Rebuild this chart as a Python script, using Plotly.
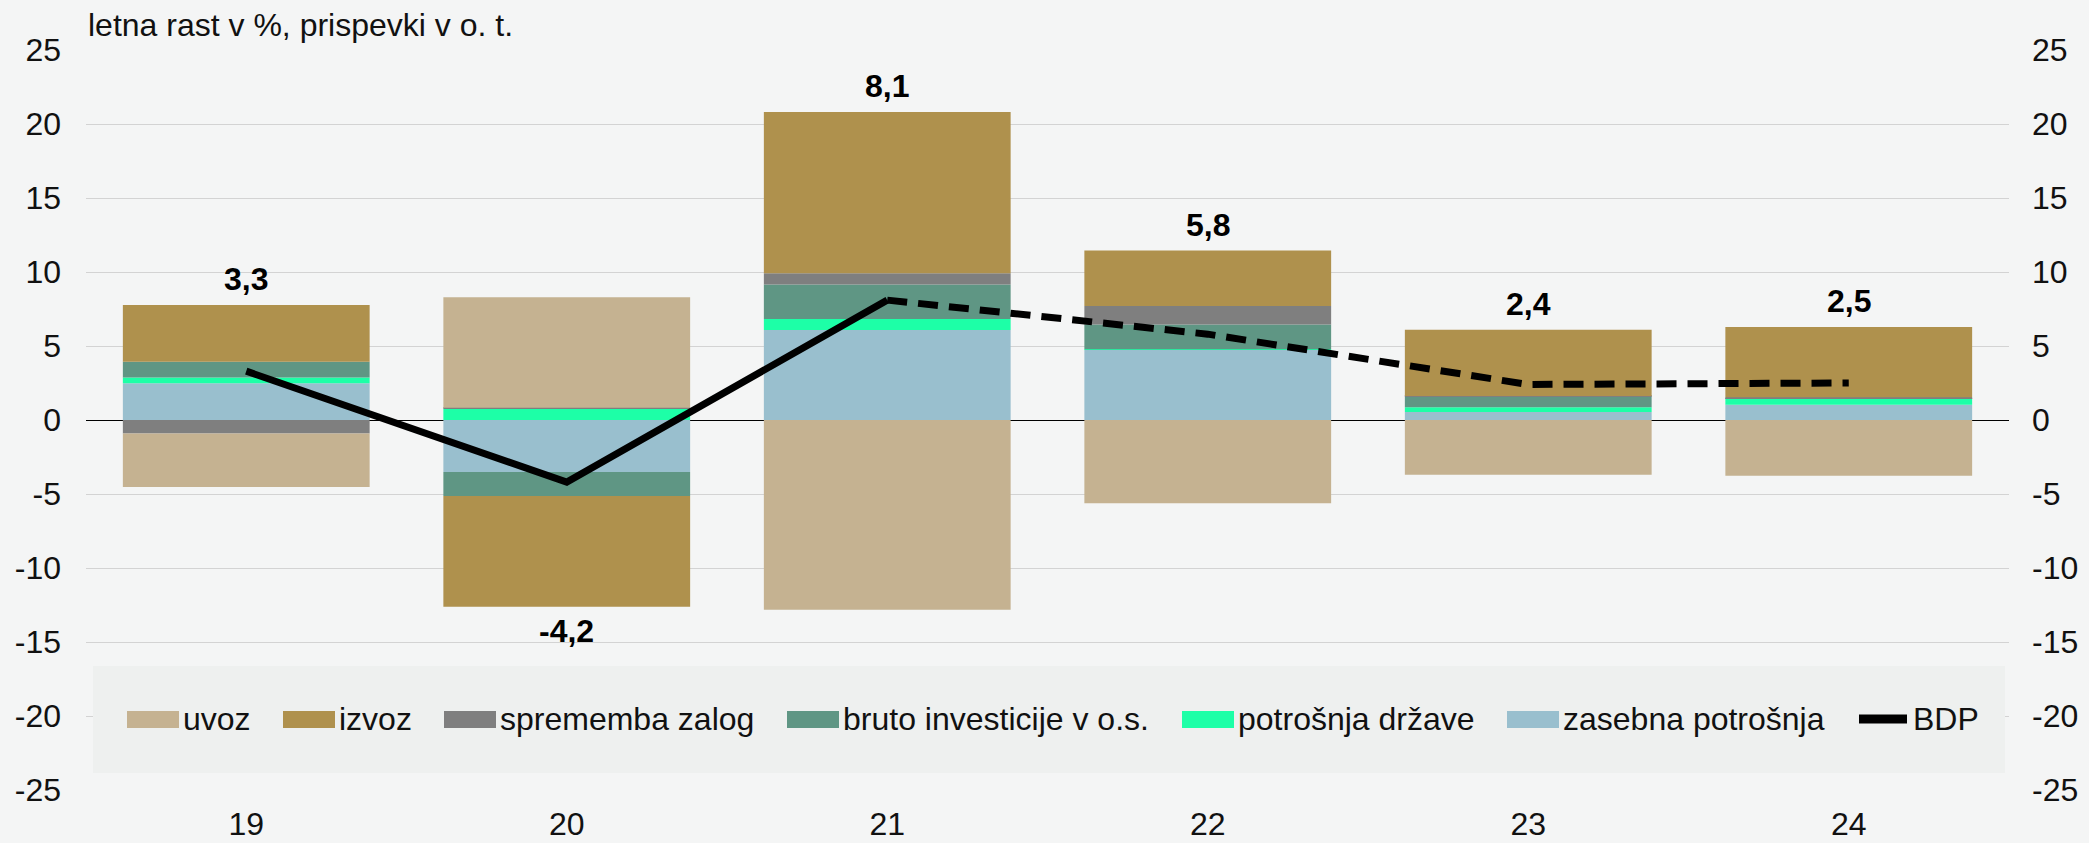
import plotly.graph_objects as go

years = ["19", "20", "21", "22", "23", "24"]

# prispevki v o. t.
zasebna = [2.48, -3.51, 6.08, 4.73, 0.54, 1.03]
drzava = [0.40, 0.76, 0.74, 0.05, 0.32, 0.40]
investicije = [1.06, -1.63, 2.34, 1.67, 0.74, 0.02]
zaloge = [-0.92, 0.07, 0.75, 1.26, 0.03, 0.08]
izvoz = [3.83, -7.47, 10.90, 3.74, 4.46, 4.75]
uvoz = [-3.60, 7.46, -12.82, -5.63, -3.70, -3.76]

bdp = [3.3, -4.2, 8.1, 5.8, 2.4, 2.5]
bdp_labels = ["3,3", "-4,2", "8,1", "5,8", "2,4", "2,5"]
n_actual = 3  # 19-21 realizacija, ostalo napoved

y_ticks = [-25, -20, -15, -10, -5, 0, 5, 10, 15, 20, 25]

W, H = 2089, 843
L, R, T, B = 86, 80, 50, 53
FONT = "Liberation Sans, Arial, sans-serif"
FS = 32

# stacked from zero outward
series = [
    ("zasebna potrošnja", zasebna, "#99BFCE"),
    ("potrošnja države", drzava, "#1DFFA7"),
    ("bruto investicije v o.s.", investicije, "#5F9684"),
    ("sprememba zalog", zaloge, "#7F7F7F"),
    ("izvoz", izvoz, "#AF914D"),
    ("uvoz", uvoz, "#C5B291"),
]

fig = go.Figure()
for name, vals, col in series:
    fig.add_trace(go.Bar(x=years, y=vals, name=name, marker_color=col,
                         marker_line_width=0, width=0.77, showlegend=False))

actual = [v if i < n_actual else None for i, v in enumerate(bdp)]
forecast = [v if i >= n_actual - 1 else None for i, v in enumerate(bdp)]
fig.add_trace(go.Scatter(x=years, y=actual, mode="lines", name="BDP",
                         line=dict(color="black", width=7), showlegend=False))
fig.add_trace(go.Scatter(x=years, y=forecast, mode="lines", name="BDP napoved",
                         line=dict(color="black", width=7, dash="20px,11px"),
                         showlegend=False))
# right axis
fig.add_trace(go.Scatter(x=years, y=bdp, yaxis="y2", mode="lines",
                         line=dict(width=0), hoverinfo="skip", showlegend=False))

# value labels above/below the stacks
for i, yr in enumerate(years):
    pos = sum(max(s[1][i], 0) for s in series)
    neg = sum(min(s[1][i], 0) for s in series)
    if bdp[i] >= 0:
        yy, sh = pos, 26
    else:
        yy, sh = neg, -24
    fig.add_annotation(x=i, y=yy, yshift=sh, text="<b>%s</b>" % bdp_labels[i],
                       showarrow=False, font=dict(size=FS, color="black", family=FONT))


def px_x(p):
    return (p - L) / (W - L - R)


def px_y(p):
    return (H - B - p) / (H - T - B)


fig.add_annotation(xref="paper", yref="paper", x=px_x(86), y=px_y(25),
                   xanchor="left", yanchor="middle", showarrow=False,
                   text="letna rast v %, prispevki v o. t.",
                   font=dict(size=FS, color="#111", family=FONT))

# legend box
fig.add_shape(type="rect", xref="paper", yref="paper", layer="above",
              x0=px_x(93), x1=px_x(2005), y0=px_y(666), y1=px_y(773),
              fillcolor="#EEF0EF", line_width=0)

legend_items = ["uvoz", "izvoz", "sprememba zalog", "bruto investicije v o.s.",
                "potrošnja države", "zasebna potrošnja"]
legend_x = [127, 283, 444, 787, 1182, 1507]
colors = {n: c for n, _, c in series}
for name, x0 in zip(legend_items, legend_x):
    fig.add_shape(type="rect", xref="paper", yref="paper", layer="above",
                  x0=px_x(x0), x1=px_x(x0 + 52), y0=px_y(711), y1=px_y(728),
                  fillcolor=colors[name], line_width=0)
    fig.add_annotation(xref="paper", yref="paper", x=px_x(x0 + 54), y=px_y(719),
                       xanchor="left", yanchor="middle", showarrow=False, text=name,
                       font=dict(size=FS, color="#111", family=FONT))
fig.add_shape(type="line", xref="paper", yref="paper", layer="above",
              x0=px_x(1859), x1=px_x(1907), y0=px_y(719), y1=px_y(719),
              line=dict(color="black", width=9))
fig.add_annotation(xref="paper", yref="paper", x=px_x(1911), y=px_y(719),
                   xanchor="left", yanchor="middle", showarrow=False, text="BDP",
                   font=dict(size=FS, color="#111", family=FONT))

yax = dict(range=[-25, 25], tickvals=y_ticks, ticktext=[str(v) for v in y_ticks],
           showgrid=True, gridcolor="#D3D3D3",
           gridwidth=1.3, zeroline=True, zerolinecolor="black", zerolinewidth=1.2,
           tickfont=dict(size=FS, color="#111", family=FONT), ticks="",
           ticklabelstandoff=24, automargin=False, fixedrange=True)

fig.update_layout(
    width=W, height=H,
    margin=dict(l=L, r=R, t=T, b=B),
    barmode="relative",
    paper_bgcolor="#F4F5F5",
    plot_bgcolor="rgba(0,0,0,0)",
    font=dict(family=FONT, size=FS, color="#111"),
    xaxis=dict(type="category", range=[-0.5, 5.5],
               tickfont=dict(size=FS, color="#111", family=FONT),
               showgrid=False, showline=False, ticks="", ticklabelstandoff=12,
               automargin=False),
    yaxis=yax,
    yaxis2=dict(yax, overlaying="y", side="right", showgrid=False, zeroline=False,
                ticklabelstandoff=22),
    showlegend=False,
)

fig.write_html("out.html", config={"displayModeBar": False},
               post_script="document.body.style.margin='0';")
